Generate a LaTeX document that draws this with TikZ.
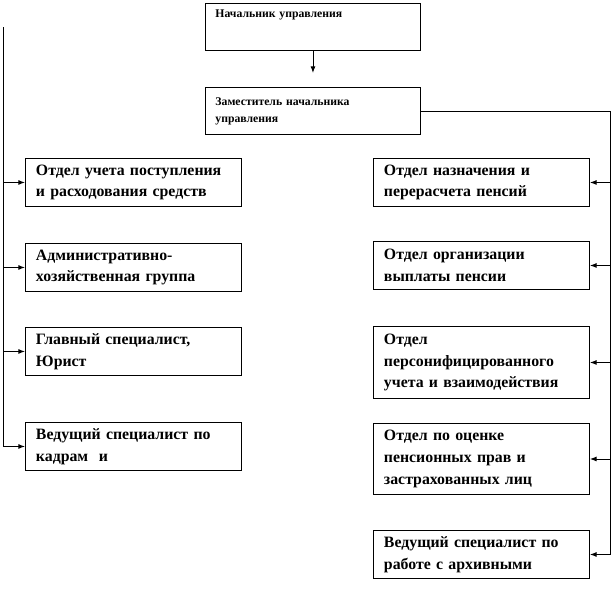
\documentclass[tikz,border=0pt]{standalone}
\usepackage{fontspec}
\setmainfont{Liberation Serif}
\usetikzlibrary{arrows.meta,positioning}

\begin{document}
\begin{tikzpicture}[x=0.03cm,y=-0.03cm,
	unit/.style={draw,line width=0.8pt,anchor=north west,align=left,inner xsep=0.3cm,inner ysep=0.1cm,text width=5.85cm,minimum width=6.48cm,minimum height=1.44cm,font=\bfseries\fontsize{13.5}{18.7}\selectfont},
	head/.style={unit,minimum width=6.45cm,minimum height=1.41cm,font=\bfseries\fontsize{10}{14.5}\selectfont},
	link/.style={line width=0.8pt,-{Latex[length=0.2cm,width=0.15cm]}}]
	\useasboundingbox (0,0) rectangle (614,603);
	% top
	\node[head,text height=0.33cm,text depth=0.88cm] (chief) at (205,3) {Начальник управления};
	\node[head] (deputy) at (205,87) {Заместитель начальника\\управления};
	\draw[link,shorten >=0.42cm] (chief) -- (deputy);
	% left column
	\node[unit] (l1) at (25,158) {Отдел учета поступления\\и расходования средств};
	\node[unit] (l2) at (25,243) {Административно-\\хозяйственная группа};
	\node[unit] (l3) at (25,327) {Главный специалист,\\Юрист};
	\node[unit] (l4) at (25,422) {Ведущий специалист по\\кадрам~ и};
	% right column
	\node[unit] (r1) at (373,158) {Отдел назначения и\\перерасчета пенсий};
	\node[unit] (r2) at (373,241) {Отдел организации\\выплаты пенсии};
	\node[unit,minimum height=2.16cm] (r3) at (373,326) {Отдел\\персонифицированного\\учета и взаимодействия};
	\node[unit,minimum height=2.13cm] (r4) at (373,423) {Отдел по оценке\\пенсионных прав и\\застрахованных лиц};
	\node[unit] (r5) at (373,530) {Ведущий специалист по\\работе с архивными};
	% trunks
	\coordinate (ltop) at (3,27);
	\draw[line width=0.8pt] (ltop) -- (ltop |- l4.west);
	\foreach \n in {l1,l2,l3,l4}
		\draw[link] (ltop |- \n.west) -- (\n.west);
	\draw[line width=0.8pt] (deputy.east) -- ++(190,0) coordinate (rtop) -- (rtop |- r5.east);
	\foreach \n in {r1,r2,r3,r4,r5}
		\draw[link] (rtop |- \n.east) -- (\n.east);
\end{tikzpicture}
\end{document}
